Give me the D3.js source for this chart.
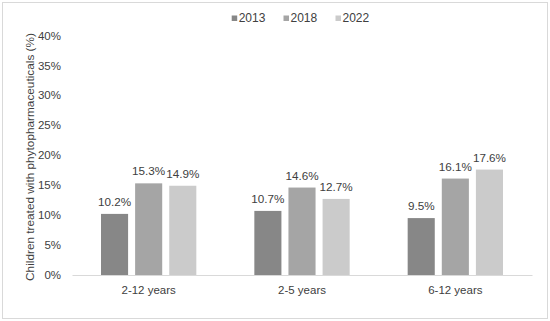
<!DOCTYPE html>
<html><head><meta charset="utf-8">
<script src="https://cdn.jsdelivr.net/npm/d3@7"></script>
<style>body{margin:0;background:#fff}svg{display:block}text{font-family:"Liberation Sans",Arial,sans-serif;fill:#404040}</style>
</head><body><svg id="c" width="550" height="321"></svg>
<script>
const categories = ["2-12 years", "2-5 years", "6-12 years"];
const seriesNames = ["2013", "2018", "2022"];
const values2013 = [10.2, 10.7, 9.5];
const values2018 = [15.3, 14.6, 16.1];
const values2022 = [14.9, 12.7, 17.6];
const yTicks = [0, 5, 10, 15, 20, 25, 30, 35, 40];
const colors = ["#878787", "#a5a5a5", "#cbcbcb"];
const series = [values2013, values2018, values2022];
const FONT = '"Liberation Sans",Arial,sans-serif';

const svg = d3.select("#c");
svg.append("rect").attr("x", 2.5).attr("y", 2.5).attr("width", 545).attr("height", 316)
  .attr("fill", "#fff").attr("stroke", "#d9d9d9");

const x = d3.scaleBand().domain(categories).range([72, 532]);
const xs = d3.scaleBand().domain(seriesNames).range([0, x.bandwidth()]).paddingInner(0.206).paddingOuter(0.85);
const y = d3.scaleLinear().domain([0, 40]).range([275, 35.4]);

const yAxis = svg.append("g").attr("transform", "translate(72,0)")
  .call(d3.axisLeft(y).tickValues(yTicks).tickFormat(d => d + "%").tickSize(0).tickPadding(11));
yAxis.select(".domain").remove();
yAxis.selectAll("text").attr("font-size", 11.5).style("font-family", FONT).attr("fill", "#404040");

series.forEach((vals, si) => {
  const g = svg.append("g");
  g.selectAll("rect").data(vals).join("rect")
    .attr("x", (d, i) => x(categories[i]) + xs(seriesNames[si]))
    .attr("width", xs.bandwidth())
    .attr("y", d => y(d)).attr("height", d => y(0) - y(d))
    .attr("fill", colors[si]);
  g.selectAll("text").data(vals).join("text")
    .attr("x", (d, i) => x(categories[i]) + xs(seriesNames[si]) + xs.bandwidth() / 2)
    .attr("y", d => y(d) - 8)
    .attr("text-anchor", "middle").attr("font-size", 11.7)
    .text(d => d.toFixed(1) + "%");
});

const xAxis = svg.append("g").attr("transform", "translate(0,275)")
  .call(d3.axisBottom(x).tickSize(0).tickPadding(11));
xAxis.select(".domain").attr("stroke", "#d9d9d9");
xAxis.selectAll("text").attr("font-size", 11.5).style("font-family", FONT).attr("fill", "#404040");

svg.append("text").attr("transform", "translate(30,157) rotate(-90)")
  .attr("text-anchor", "middle").attr("dominant-baseline", "central").attr("font-size", 11.8)
  .text("Children treated with phytopharmaceuticals (%)");

const legend = svg.append("g");
const lx = [231.7, 283.5, 335.5];
seriesNames.forEach((s, i) => {
  legend.append("rect").attr("x", lx[i]).attr("y", 15.5).attr("width", 5.5).attr("height", 5.5).attr("fill", colors[i]);
  legend.append("text").attr("x", lx[i] + 7).attr("y", 21.7).attr("font-size", 12).text(s);
});
</script></body></html>
